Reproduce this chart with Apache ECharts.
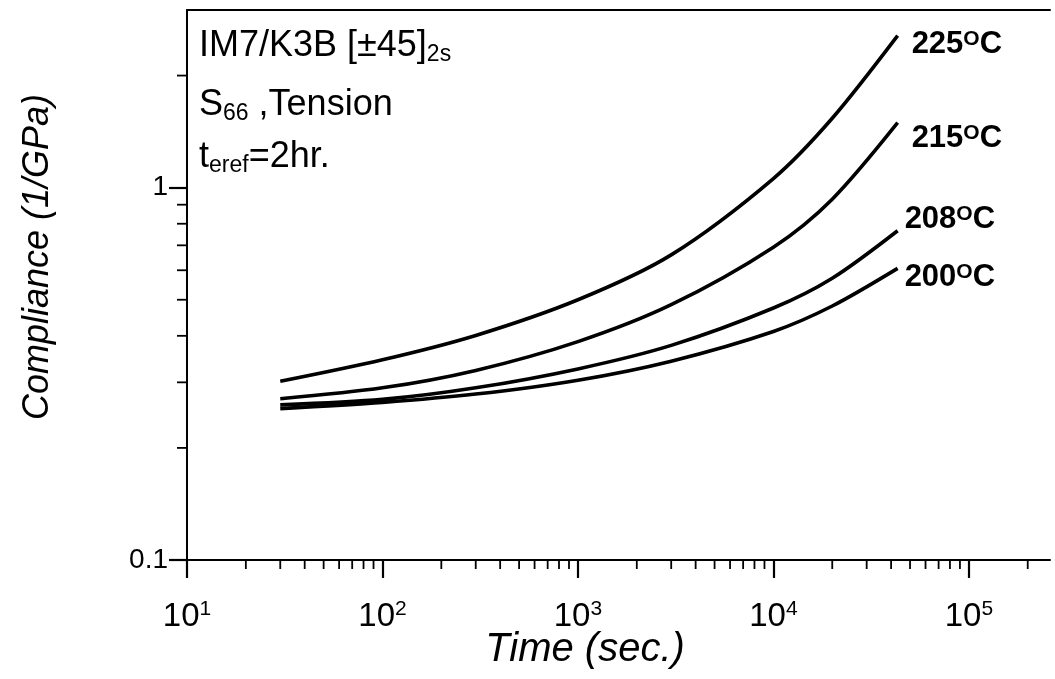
<!DOCTYPE html>
<html>
<head>
<meta charset="utf-8">
<script src="https://cdn.jsdelivr.net/npm/echarts@6/dist/echarts.min.js"></script>
<style>
html,body{margin:0;padding:0;background:#fff;}
#chart{width:1055px;height:679px;}
</style>
</head>
<body>
<div id="chart"></div>
<script>
// ---- data ----
const times = [30, 100, 300, 1000, 3000, 10000, 20000, 43200];
const c225 = [0.302, 0.345, 0.401, 0.500, 0.660, 1.058, 1.536, 2.56];
const c215 = [0.271, 0.290, 0.323, 0.386, 0.485, 0.692, 0.931, 1.494];
const c208 = [0.261, 0.270, 0.290, 0.326, 0.377, 0.475, 0.571, 0.766];
const c200 = [0.255, 0.265, 0.279, 0.304, 0.342, 0.411, 0.481, 0.607];
const seriesNames = ['225', '215', '208', '200'];
const xMinorTicks = [20,30,40,50,60,70,80,90,200,300,400,500,600,700,800,900,
  2000,3000,4000,5000,6000,7000,8000,9000,20000,30000,40000,50000,60000,70000,80000,90000,200000];
const yMinorTicks = [0.2,0.3,0.4,0.5,0.6,0.7,0.8,0.9,2];
const xMin = 10, xMax = 260000, yMin = 0.1, yMax = 3;

const chart = echarts.init(document.getElementById('chart'), null, {renderer: 'canvas'});
const FONT = '"Liberation Sans", Arial, sans-serif';

const labelRich = {
  n: {fontSize: 31, fontWeight: 'bold', fontFamily: FONT, color: '#000', lineHeight: 32},
  s: {fontSize: 21, fontWeight: 'bold', fontFamily: FONT, color: '#000', lineHeight: 18, verticalAlign: 'top'}
};
const labelOffsets = {'225': [12, 9], '215': [12, 16], '208': [5, -11], '200': [5, 9]};
const dataSets = {'225': c225, '215': c215, '208': c208, '200': c200};

const lineSeries = seriesNames.map(n => ({
  type: 'line',
  name: n,
  data: times.map((t, i) => [t, dataSets[n][i]]),
  smooth: 0.3,
  symbol: 'none',
  lineStyle: {color: '#000', width: 3.6},
  silent: true,
  endLabel: {
    show: true,
    distance: 2,
    formatter: '{n|' + n + '}{s|O}{n|C}',
    offset: labelOffsets[n],
    rich: labelRich
  }
}));

const tickStyle = {stroke: '#000', lineWidth: 1.8};
const annRich = {
  m: {fontSize: 36, fontFamily: FONT, fill: '#000', lineHeight: 40},
  u: {fontSize: 23, fontFamily: FONT, fill: '#000', lineHeight: 16, verticalAlign: 'bottom'}
};

const option = {
  animation: false,
  backgroundColor: '#fff',
  grid: {left: 187, top: 10, height: 550, width: 863, containLabel: false},
  xAxis: [{
    type: 'log', logBase: 10, min: xMin, max: xMax,
    axisLine: {show: true, lineStyle: {color: '#000', width: 2}},
    axisTick: {show: true, length: 18, lineStyle: {color: '#000', width: 2.2}},
    splitLine: {show: false},
    axisLabel: {
      margin: 39, showMaxLabel: false,
      formatter: v => '{b|10}{s|' + Math.round(Math.log10(v)) + '}',
      rich: {
        b: {fontSize: 33, fontFamily: FONT, color: '#000', lineHeight: 36},
        s: {fontSize: 21, fontFamily: FONT, color: '#000', lineHeight: 20, verticalAlign: 'top'}
      }
    }
  }, {
    type: 'value', position: 'top', min: 0, max: 1,
    axisLine: {show: true, lineStyle: {color: '#000', width: 2}},
    axisTick: {show: false}, axisLabel: {show: false}, splitLine: {show: false}
  }],
  yAxis: [{
    type: 'log', logBase: 10, min: yMin, max: yMax,
    axisLine: {show: true, lineStyle: {color: '#000', width: 2}},
    axisTick: {show: true, length: 18, lineStyle: {color: '#000', width: 2.2}},
    splitLine: {show: false},
    axisLabel: {
      margin: 19, showMaxLabel: false,
      fontSize: 28, fontFamily: FONT, color: '#000',
      formatter: v => String(+(+v).toPrecision(3))
    }
  }],
  graphic: [
    {type: 'text', left: 199, top: 28, silent: true, style: {
      text: '{m|IM7/K3B [±45]}{u|2s}', rich: annRich}},
    {type: 'text', left: 199, top: 87, silent: true, style: {
      text: '{m|S}{u|66}{m| ,Tension}', rich: annRich}},
    {type: 'text', left: 199, top: 139, silent: true, style: {
      text: '{m|t}{u|eref}{m|=2hr.}', rich: annRich}},
    {type: 'text', x: 585, y: 650, silent: true, style: {
      text: 'Time (sec.)', fontSize: 40, fontStyle: 'italic', fontFamily: FONT, fill: '#000',
      align: 'center', verticalAlign: 'middle'}},
    {type: 'text', x: 38, y: 257, rotation: Math.PI / 2, silent: true, style: {
      text: 'Compliance (1/GPa)', fontSize: 36, fontStyle: 'italic', fontFamily: FONT, fill: '#000',
      align: 'center', verticalAlign: 'middle'}}
  ],
  series: lineSeries.concat([
    {
      type: 'custom', name: 'xMinor', silent: true, clip: false,
      data: xMinorTicks.map(v => [v, yMin]),
      renderItem: (params, api) => {
        const p = api.coord([api.value(0), api.value(1)]);
        return {type: 'line', shape: {x1: p[0], y1: p[1], x2: p[0], y2: p[1] + 9}, style: tickStyle};
      }
    },
    {
      type: 'custom', name: 'yMinor', silent: true, clip: false,
      data: yMinorTicks.map(v => [xMin, v]),
      renderItem: (params, api) => {
        const p = api.coord([api.value(0), api.value(1)]);
        return {type: 'line', shape: {x1: p[0] - 10, y1: p[1], x2: p[0], y2: p[1]}, style: tickStyle};
      }
    }
  ])
};
chart.setOption(option);
</script>
</body>
</html>
